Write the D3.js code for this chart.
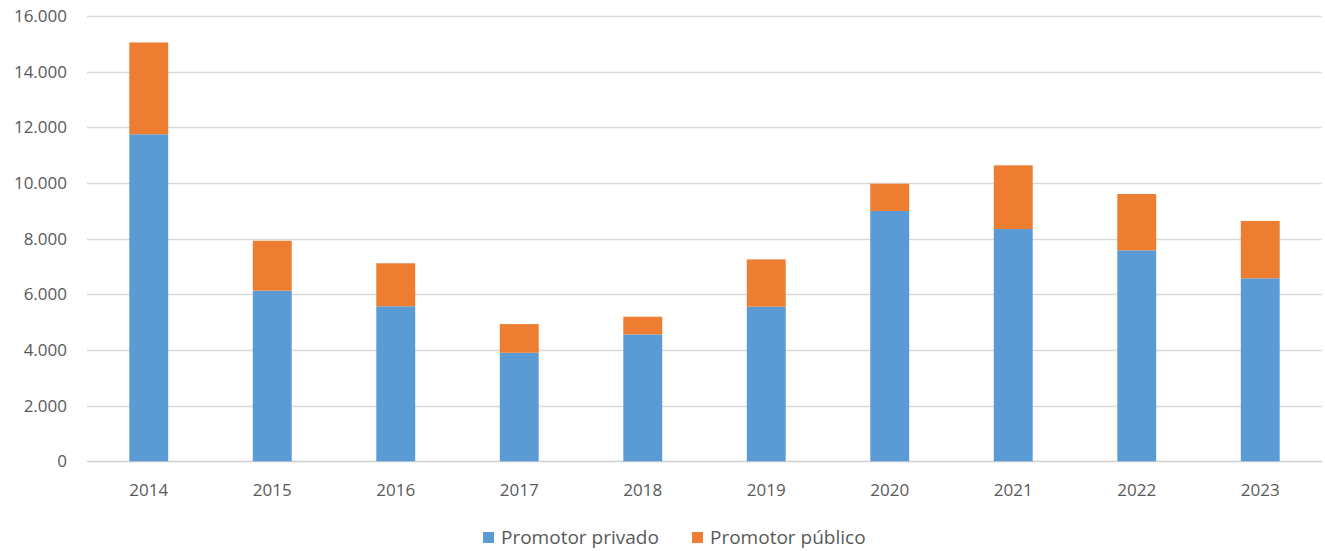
<!DOCTYPE html>
<html>
<head>
<meta charset="utf-8">
<script src="https://cdn.jsdelivr.net/npm/d3@7"></script>
<style>
  body { margin: 0; background: #fff; }
  text { font-family: 'Open Sans', 'Noto Sans', sans-serif; fill: #595959; }
</style>
</head>
<body>
<script>
const years = ['2014', '2015', '2016', '2017', '2018', '2019', '2020', '2021', '2022', '2023'];
const privado = [11750, 6130, 5570, 3900, 4560, 5555, 8995, 8345, 7580, 6575];
const publico = [3300, 1795, 1545, 1030, 635, 1700, 980, 2290, 2025, 2060];
const yTicks = [0, 2000, 4000, 6000, 8000, 10000, 12000, 14000, 16000];
const seriesNames = ['Promotor privado', 'Promotor público'];
const colors = ['#5b9bd5', '#ed7d31'];

const width = 1325;
const height = 551;
const margin = { top: 16, right: 3, bottom: 90, left: 87 };

const rows = years.map((y, i) => ({ year: y, privado: privado[i], publico: publico[i] }));
const stacked = d3.stack().keys(['privado', 'publico'])(rows);

const svg = d3.select('body')
  .append('svg')
  .attr('width', width)
  .attr('height', height);

const x = d3.scaleBand()
  .domain(years)
  .range([margin.left, width - margin.right])
  .paddingInner(0.685)
  .paddingOuter(0.3425);

const y = d3.scaleLinear()
  .domain([0, 16000])
  .range([height - margin.bottom + 0.3, margin.top]);

const fmt = v => d3.format(',')(v).replace(/,/g, '.');

// grid
svg.append('g')
  .selectAll('line')
  .data(yTicks)
  .enter()
  .append('line')
  .attr('x1', margin.left)
  .attr('x2', width - margin.right)
  .attr('y1', d => Math.round(y(d)) + 0.5)
  .attr('y2', d => Math.round(y(d)) + 0.5)
  .attr('stroke', d => d === 0 ? '#d0d0d0' : '#d9d9d9')
  .attr('stroke-width', 1.5);

// y labels
svg.append('g')
  .selectAll('text')
  .data(yTicks)
  .enter()
  .append('text')
  .attr('x', 67)
  .attr('y', d => y(d))
  .attr('dy', '0.35em')
  .attr('text-anchor', 'end')
  .style('font-size', '17px')
  .text(d => fmt(d));

// bars
svg.append('g')
  .selectAll('g')
  .data(stacked)
  .enter()
  .append('g')
  .attr('fill', (d, i) => colors[i])
  .selectAll('rect')
  .data(d => d)
  .enter()
  .append('rect')
  .attr('x', d => x(d.data.year))
  .attr('width', x.bandwidth())
  .attr('y', d => y(d[1]))
  .attr('height', d => y(d[0]) - y(d[1]));

// x labels
svg.append('g')
  .selectAll('text')
  .data(years)
  .enter()
  .append('text')
  .attr('x', d => x(d) + x.bandwidth() / 2)
  .attr('y', 496)
  .attr('text-anchor', 'middle')
  .style('font-size', '17px')
  .text(d => d);

// legend
const legendX = [483, 692];
const legend = svg.append('g')
  .selectAll('g')
  .data(seriesNames)
  .enter()
  .append('g')
  .attr('transform', (d, i) => `translate(${ legendX[i] },532)`);

legend.append('rect')
  .attr('width', 11)
  .attr('height', 11)
  .attr('fill', (d, i) => colors[i]);

legend.append('text')
  .attr('x', 18)
  .attr('y', 12)
  .style('font-size', '19px')
  .text(d => d);
</script>
</body>
</html>
